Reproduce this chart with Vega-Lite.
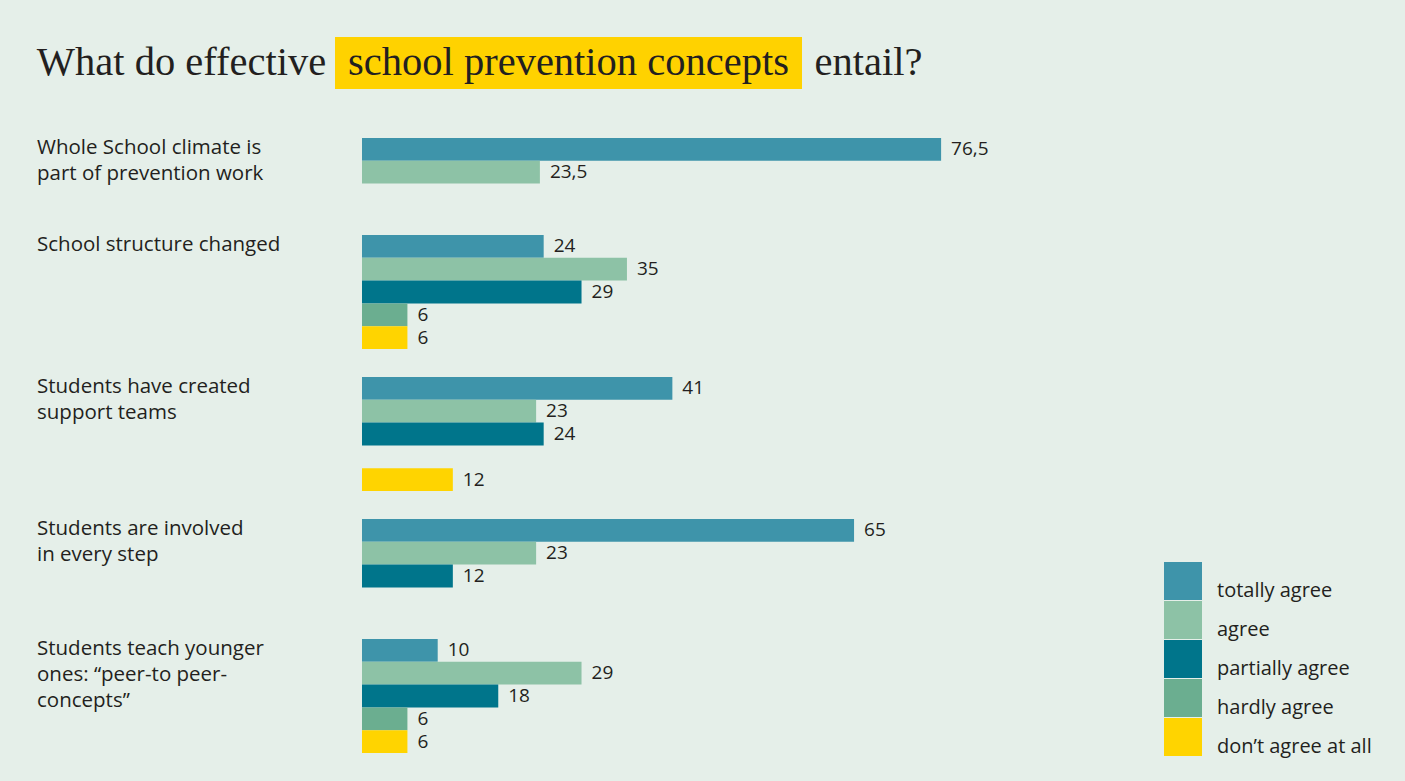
{
  "$schema": "https://vega.github.io/schema/vega-lite/v6.json",
  "background": "#e5efe9",
  "padding": {"left": 36, "top": 37, "right": 34, "bottom": 24},
  "config": {"view": {"stroke": null}, "font": "Open Sans"},
  "spacing": 49,
  "vconcat": [
    {
      "hconcat": [
        {
          "width": 289, "height": 52,
          "data": {"values": [{"t": "What do effective"}]},
          "mark": {"type": "text", "font": "Liberation Serif", "fontSize": 40.5, "color": "#231f20", "baseline": "middle", "align": "center"},
          "encoding": {"text": {"field": "t"}}
        },
        {
          "width": 467, "height": 52,
          "view": {"fill": "#ffd200", "stroke": null},
          "data": {"values": [{"t": "school prevention concepts"}]},
          "mark": {"type": "text", "font": "Liberation Serif", "fontSize": 40.5, "color": "#231f20", "baseline": "middle", "align": "center"},
          "encoding": {"text": {"field": "t"}}
        },
        {
          "width": 115, "height": 52,
          "data": {"values": [{"t": "entail?"}]},
          "mark": {"type": "text", "font": "Liberation Serif", "fontSize": 40.5, "color": "#231f20", "baseline": "middle", "align": "center"},
          "encoding": {"text": {"field": "t"}}
        }
      ],
      "spacing": 9,
      "bounds": "flush"
    },
    {
      "hconcat": [
        {
          "width": 325, "height": 10,
          "data": {"values": []},
          "mark": {"type": "point", "opacity": 0},
          "encoding": {}
        },
        {
          "data": {"values": [
            {"topic": "Whole School climate is\npart of prevention work", "response": "totally agree", "value": 76.5},
            {"topic": "Whole School climate is\npart of prevention work", "response": "agree", "value": 23.5},
            {"topic": "Whole School climate is\npart of prevention work", "response": "partially agree", "value": null},
            {"topic": "School structure changed", "response": "totally agree", "value": 24},
            {"topic": "School structure changed", "response": "agree", "value": 35},
            {"topic": "School structure changed", "response": "partially agree", "value": 29},
            {"topic": "School structure changed", "response": "hardly agree", "value": 6},
            {"topic": "School structure changed", "response": "don’t agree at all", "value": 6},
            {"topic": "Students have created\nsupport teams", "response": "totally agree", "value": 41},
            {"topic": "Students have created\nsupport teams", "response": "agree", "value": 23},
            {"topic": "Students have created\nsupport teams", "response": "partially agree", "value": 24},
            {"topic": "Students have created\nsupport teams", "response": "hardly agree", "value": null},
            {"topic": "Students have created\nsupport teams", "response": "don’t agree at all", "value": 12},
            {"topic": "Students are involved\nin every step", "response": "totally agree", "value": 65},
            {"topic": "Students are involved\nin every step", "response": "agree", "value": 23},
            {"topic": "Students are involved\nin every step", "response": "partially agree", "value": 12},
            {"topic": "Students are involved\nin every step", "response": "hardly agree", "value": null},
            {"topic": "Students teach younger\nones: “peer-to peer-\nconcepts”", "response": "totally agree", "value": 10},
            {"topic": "Students teach younger\nones: “peer-to peer-\nconcepts”", "response": "agree", "value": 29},
            {"topic": "Students teach younger\nones: “peer-to peer-\nconcepts”", "response": "partially agree", "value": 18},
            {"topic": "Students teach younger\nones: “peer-to peer-\nconcepts”", "response": "hardly agree", "value": 6},
            {"topic": "Students teach younger\nones: “peer-to peer-\nconcepts”", "response": "don’t agree at all", "value": 6}
          ]},
          "facet": {
            "row": {
              "field": "topic", "type": "nominal",
              "sort": ["Whole School climate is\npart of prevention work", "School structure changed", "Students have created\nsupport teams", "Students are involved\nin every step", "Students teach younger\nones: “peer-to peer-\nconcepts”"],
              "title": null,
              "header": {
                "labelAngle": 0, "labelOrient": "left", "labelAlign": "left", "labelAnchor": "end", "labelBaseline": "top",
                "labelFont": "Open Sans", "labelFontSize": 20.5, "labelColor": "#231f20", "labelLineHeight": 26, "labelPadding": 49,
                "labelExpr": "split(datum.value + '\\n' + '\u2800\u2003\u2003\u2003\u2003\u2003\u2003\u2003\u2003\u2003\u2003\u2003\u2003\u2800', '\\n')"
              }
            }
          },
          "spacing": {"row": 28},
          "resolve": {"scale": {"y": "independent"}},
          "spec": {
            "width": 757,
            "height": {"step": 22.8},
            "encoding": {
              "y": {"field": "response", "type": "nominal", "sort": ["totally agree", "agree", "partially agree", "hardly agree", "don’t agree at all"], "axis": null, "scale": {"paddingInner": 0, "paddingOuter": 0}}
            },
            "layer": [
              {
                "mark": {"type": "bar", "invalid": "show"},
                "encoding": {
                  "x": {"field": "value", "type": "quantitative", "scale": {"domain": [0, 100]}, "axis": null},
                  "color": {
                    "field": "response", "type": "nominal",
                    "scale": {"domain": ["totally agree", "agree", "partially agree", "hardly agree", "don’t agree at all"], "range": ["#3e94aa", "#8dc2a6", "#00758b", "#6bae90", "#ffd400"]},
                    "legend": {"orient": "none", "legendX": 1127, "legendY": 525, "title": null, "symbolType": "square", "symbolSize": 1444, "symbolStrokeWidth": 0, "symbolOpacity": 1, "rowPadding": 0, "labelFont": "Open Sans", "labelFontSize": 20, "labelColor": "#231f20", "labelOffset": 15, "labelBaseline": "top", "labelLimit": 300}
                  }
                }
              },
              {
                "transform": [{"filter": "datum.value != null"}, {"calculate": "replace(toString(datum.value), '.', ',')", "as": "label"}],
                "mark": {"type": "text", "align": "left", "baseline": "middle", "dx": 10, "font": "Open Sans", "fontSize": 19, "color": "#231f20"},
                "encoding": {
                  "x": {"field": "value", "type": "quantitative"},
                  "text": {"field": "label"}
                }
              }
            ]
          }
        }
      ],
      "spacing": 0,
      "bounds": "flush"
    }
  ]
}
